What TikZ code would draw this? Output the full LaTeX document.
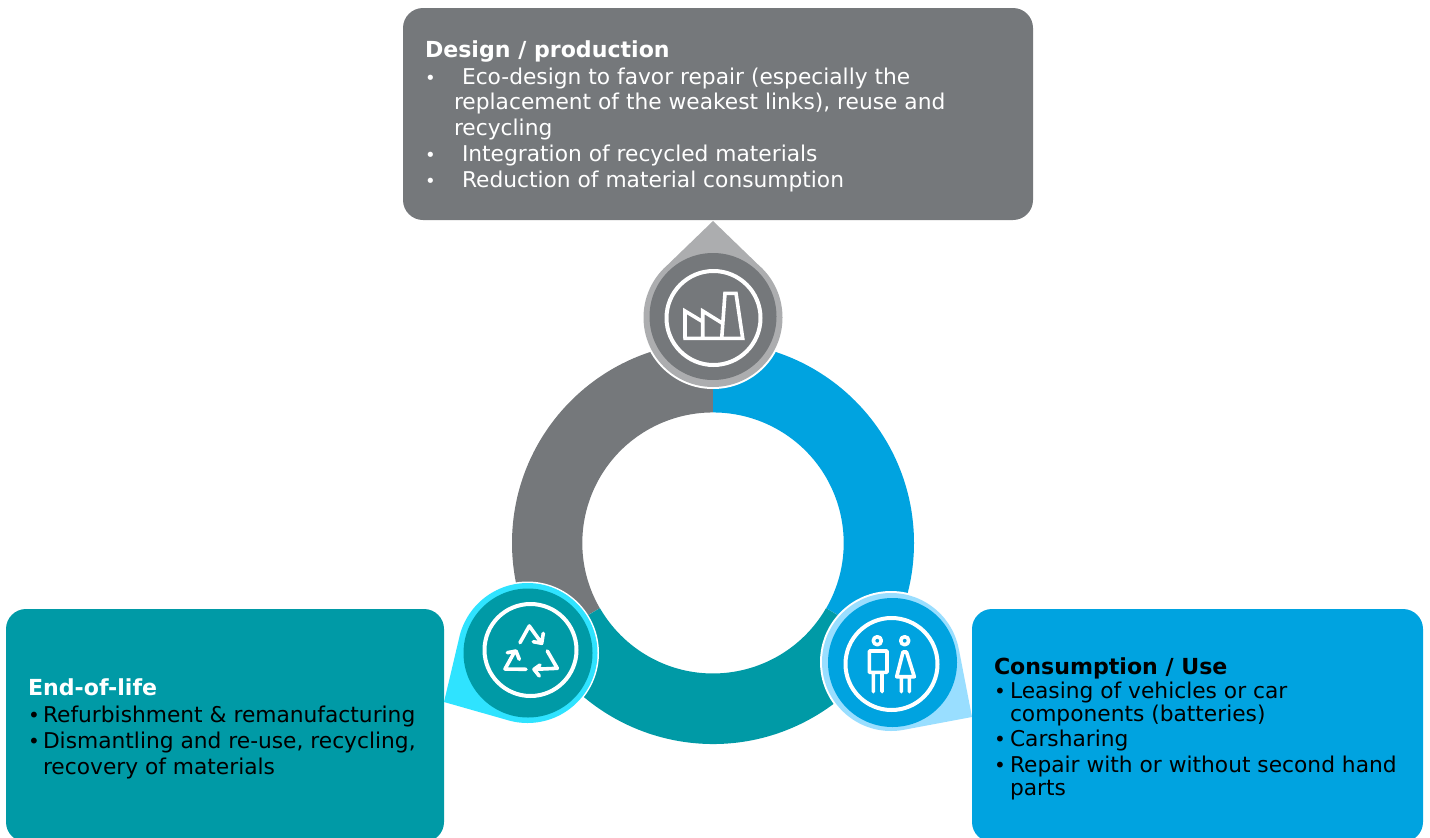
\documentclass[tikz,border=0pt]{standalone}
\usepackage{fontspec}
\setmainfont{DejaVu Sans}
\definecolor{cgray}{HTML}{75787B}
\definecolor{cblue}{HTML}{00A3E0}
\definecolor{cteal}{HTML}{009AA6}
\definecolor{lgray}{HTML}{ACADAF}
\definecolor{lteal}{HTML}{2FE3FF}
\definecolor{lblue}{HTML}{99DEFF}
\tikzset{
  x=1pt,y=-1pt,
  txt/.style={anchor=base west,inner sep=0pt,outer sep=0pt,font=\fontsize{21.75}{24}\selectfont},
  ttl/.style={txt,font=\fontsize{22.1}{24}\selectfont\bfseries},
  bul/.style={txt,font=\fontsize{18}{24}\selectfont},
  bulb/.style={txt,font=\fontsize{20}{24}\selectfont},
  wt/.style={text=white},
  bk/.style={text=black},
  icon/.style={draw=white,line width=3.6pt,line cap=round,line join=round},
  ringw/.style={draw=white,line width=4pt,fill=none}
}
\begin{document}
\begin{tikzpicture}
\useasboundingbox (0,0) rectangle (1430,838);
\clip (0,0) rectangle (1430,838);
% ring
\coordinate (c) at (713,543);
\fill[cgray] (713,342) arc[start angle=-90,delta angle=-120,radius=201] -- (599.8,608.2) arc[start angle=150,delta angle=120,radius=130.5] -- cycle;
\fill[cblue] (713,342) arc[start angle=-90,delta angle=120,radius=201] -- (826.2,608.2) arc[start angle=30,delta angle=-120,radius=130.5] -- cycle;
\fill[cteal] (539,643.5) arc[start angle=150,delta angle=-120,radius=201] -- (826,608.2) arc[start angle=30,delta angle=120,radius=130.5] -- cycle;
% boxes
\fill[cgray,rounded corners=20pt] (403,8) rectangle (1033,220);
\fill[cteal,rounded corners=20pt] (6,609) rectangle (444,842);
\fill[cblue,rounded corners=20pt] (972,609) rectangle (1423,842);
% drops: top
\fill[white] (713,317.5) circle[radius=71.5];
\fill[lgray] (713,317.5) circle[radius=69.5] (713,221) -- (761.1,267.5) -- (664.9,267.5) -- cycle;
\fill[cgray] (713,316.5) circle[radius=63.5];
\draw[ringw] (713.5,318) circle[radius=47];
\draw[icon,line cap=butt,line join=miter] (683.3,338.3) -- (742.7,338.3) -- (736,293.3) -- (725,293.3) -- (721.7,338.3)
  (685,338.3) -- (685,311) -- (702.7,321.7) -- (702.7,338.3)
  (702.7,321.7) -- (702.7,311) -- (722.8,323.5);
% drops: left
\fill[white] (527.5,653) circle[radius=71.5];
\fill[lteal] (527.5,653) circle[radius=70] (444,702) -- (459.4,636.9) -- (527.5,653) -- (508.3,720.3) -- cycle;
\fill[cteal] (528,653) circle[radius=64.5];
\draw[ringw] (530.5,650) circle[radius=46];
\draw[icon] (520,642.7) -- (529.3,626) -- (541.7,643.3) (543.3,633.3) -- (541.7,643.3) -- (533.3,641.7)
  (526,669.3) -- (505,669) -- (515,651) (507.3,652.7) -- (516,651) -- (519.3,659.3)
  (547.3,651) -- (557.3,668.3) -- (535,669.3) (540,665) -- (534,669.3) -- (539.3,676);
% drops: right
\fill[white] (891,662) circle[radius=71];
\fill[lblue] (891,662) circle[radius=69] (972,717) -- (903.8,729.8) -- (891,662) -- (958.8,648.9) -- cycle;
\fill[cblue] (892.5,662.5) circle[radius=64.5];
\draw[ringw] (891.5,664) circle[radius=46];
\draw[icon] (877.3,640.7) circle[radius=4]  (904.7,640.7) circle[radius=4]
  (869.3,651) rectangle (887,672.3)
  (873.3,672.3) -- (873.3,691.7) (882,672.3) -- (882,691.7)
  (903,652) -- (906.5,652) -- (914.3,676.7) -- (896.7,676.7) -- cycle
  (901.3,676.7) -- (901.3,691.7) (909.3,676.7) -- (909.3,691.7);
% text top
\node[ttl,wt] (a0) at (425,57.5) {Design / production};
\node[bul,wt] (a1b) at (425,84) {•};
\node[txt,wt] (a1) at (462,84) {Eco-design to favor repair (especially the};
\node[txt,wt] (a2) at (454,109) {replacement of the weakest links), reuse and};
\node[txt,wt] (a3) at (454,135) {recycling};
\node[bul,wt] (a4b) at (425,161) {•};
\node[txt,wt] (a4) at (462,161) {Integration of recycled materials};
\node[bul,wt] (a5b) at (425,187) {•};
\node[txt,wt] (a5) at (462,187) {Reduction of material consumption};
% text left
\node[ttl,wt] (b0) at (28,695) {End-of-life};
\node[bulb,bk] (b1b) at (28,722) {•};
\node[txt,bk] (b1) at (43,722) {Refurbishment \& remanufacturing};
\node[bulb,bk] (b2b) at (28,748) {•};
\node[txt,bk] (b2) at (43,748) {Dismantling and re-use, recycling,};
\node[txt,bk] (b3) at (43,774) {recovery of materials};
% text right
\node[ttl,bk] (d0) at (994,674) {Consumption / Use};
\node[bulb,bk] (d1b) at (994,698) {•};
\node[txt,bk] (d1) at (1010,698) {Leasing of vehicles or car};
\node[txt,bk] (d2) at (1010,721) {components (batteries)};
\node[bulb,bk] (d3b) at (994,746) {•};
\node[txt,bk] (d3) at (1010,746) {Carsharing};
\node[bulb,bk] (d4b) at (994,772) {•};
\node[txt,bk] (d4) at (1010,772) {Repair with or without second hand};
\node[txt,bk] (d5) at (1010,795) {parts};
\end{tikzpicture}
\end{document}
